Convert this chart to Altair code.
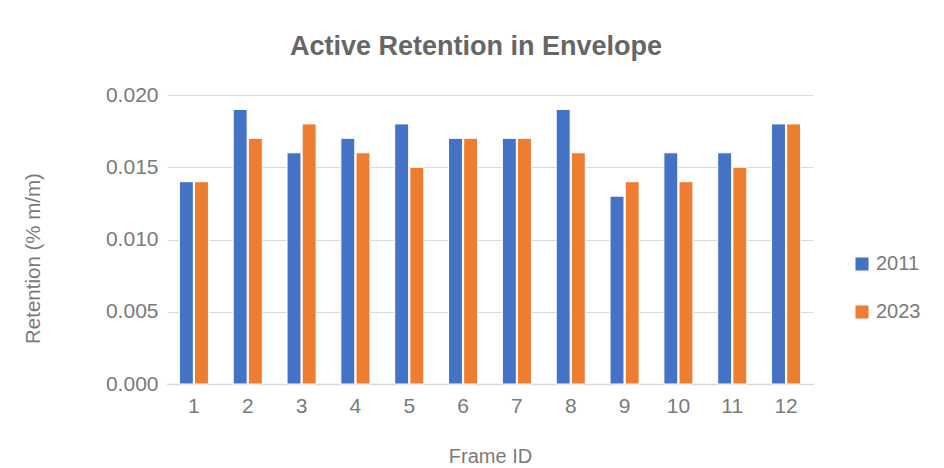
import altair as alt
import pandas as pd

frames = [str(i) for i in range(1, 13)]
ret_2011 = [0.014, 0.019, 0.016, 0.017, 0.018, 0.017, 0.017, 0.019, 0.013, 0.016, 0.016, 0.018]
ret_2023 = [0.014, 0.017, 0.018, 0.016, 0.015, 0.017, 0.017, 0.016, 0.014, 0.014, 0.015, 0.018]
years = ["2011", "2023"]
colors = ["#4472C4", "#ED7D31"]

rows = []
for f, a, b in zip(frames, ret_2011, ret_2023):
    rows.append({"Frame ID": f, "Year": years[0], "Retention": a})
    rows.append({"Frame ID": f, "Year": years[1], "Retention": b})
df = pd.DataFrame(rows)

FONT = "Liberation Sans"
TXT = "#7a7a7a"

chart = alt.Chart(df).mark_bar(stroke="white", strokeWidth=1).encode(
    x=alt.X("Frame ID:N", sort=frames,
            scale=alt.Scale(paddingInner=0.46, paddingOuter=0.23),
            axis=alt.Axis(title="Frame ID", labelAngle=0, ticks=False,
                          domainColor="#D9D9D9", domainWidth=1.5,
                          labelFontSize=21, labelPadding=11,
                          titleFontSize=20, titlePadding=30,
                          labelColor=TXT, titleColor=TXT,
                          labelFont=FONT, titleFont=FONT,
                          labelFontWeight="normal", titleFontWeight="normal")),
    xOffset=alt.XOffset("Year:N", scale=alt.Scale(paddingInner=0.08)),
    y=alt.Y("Retention:Q",
            scale=alt.Scale(domain=[0, 0.02], nice=False),
            axis=alt.Axis(title="Retention (% m/m)", format=".3f",
                          values=[0, 0.005, 0.01, 0.015, 0.02],
                          domain=False, ticks=False, gridColor="#D9D9D9",
                          gridWidth=1.2,
                          labelFontSize=21, labelPadding=9,
                          titleFontSize=20.5, titlePadding=62, titleY=163,
                          labelColor=TXT, titleColor=TXT,
                          labelFont=FONT, titleFont=FONT,
                          labelFontWeight="normal", titleFontWeight="normal")),
    color=alt.Color("Year:N", sort=years,
                    scale=alt.Scale(domain=years, range=colors),
                    legend=alt.Legend(title=None, orient="none",
                                      legendX=685, legendY=159,
                                      symbolType="square", symbolSize=170,
                                      symbolStrokeWidth=0,
                                      labelFontSize=20, labelFont=FONT,
                                      labelColor=TXT,
                                      rowPadding=28, labelOffset=4)),
).properties(
    width=646, height=289,
    title=alt.TitleParams("Active Retention in Envelope", fontSize=27,
                          font=FONT, fontWeight="bold", color="#666666",
                          offset=23, anchor="middle", dx=-14),
    padding={"left": 15, "top": 25, "right": 10, "bottom": 5},
).configure_view(stroke=None)

chart.save("out.html", embed_options={"renderer": "svg", "actions": False})
